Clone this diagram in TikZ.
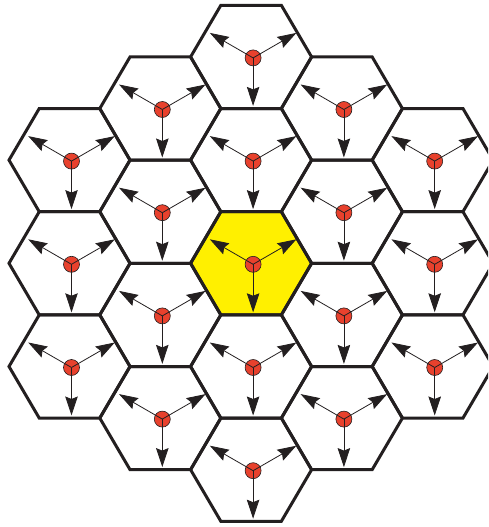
\documentclass[tikz,border=0pt]{standalone}
\usetikzlibrary{arrows.meta,calc}
\definecolor{hexred}{RGB}{232,65,45}
\definecolor{hexyellow}{RGB}{255,240,0}
\definecolor{ink}{RGB}{35,31,32}
\begin{document}
\begin{tikzpicture}[x=1pt,y=-1pt,
  hexedge/.style={draw=ink,line width=3pt,line join=miter},
  ray/.style={draw=ink,line width=0.8pt,-{Stealth[length=19pt,width=12.5pt,inset=2.5pt]}},
  bulb/.style={circle,draw=ink,line width=0.6pt,fill=hexred,minimum size=16pt,inner sep=0pt}]
\useasboundingbox (0,0) rectangle (488,527);
\clip (0,0) rectangle (488,527);
\def\R{60.5}
\def\H{51.6}
\def\centers{69.5/160.1, 69.5/263.3, 69.5/366.5,
  160.3/108.5, 160.3/211.7, 160.3/314.9, 160.3/418.1,
  251.1/56.9, 251.1/160.1, 251.1/263.3, 251.1/366.5, 251.1/469.7,
  341.9/108.5, 341.9/211.7, 341.9/314.9, 341.9/418.1,
  432.7/160.1, 432.7/263.3, 432.7/366.5}
% yellow centre cell
\begin{scope}[shift={(251.1,263.3)}]
  \fill[hexyellow] (\R,0) -- (\R/2,\H) -- (-\R/2,\H) -- (-\R,0) -- (-\R/2,-\H) -- (\R/2,-\H) -- cycle;
\end{scope}
% cell outlines
\foreach \cx/\cy in \centers {
  \begin{scope}[shift={(\cx,\cy)}]
    \path[hexedge] (\R,0) -- (\R/2,\H) -- (-\R/2,\H) -- (-\R,0) -- (-\R/2,-\H) -- (\R/2,-\H) -- cycle;
  \end{scope}
}
% antennas with three beams
\foreach \cx/\cy [count=\i] in \centers {
  \node[bulb] (b\i) at (\cx+2,\cy+1) {};
  \coordinate (t\i a) at ($(b\i.center)+(150:50pt)$);
  \coordinate (t\i b) at ($(b\i.center)+(30:50pt)$);
  \coordinate (t\i c) at ($(b\i.center)+(270:48pt)$);
  \path[ray] (b\i.center) -- (t\i a);
  \path[ray] (b\i.center) -- (t\i b);
  \path[ray] (b\i.center) -- (t\i c);
}
\end{tikzpicture}
\end{document}
